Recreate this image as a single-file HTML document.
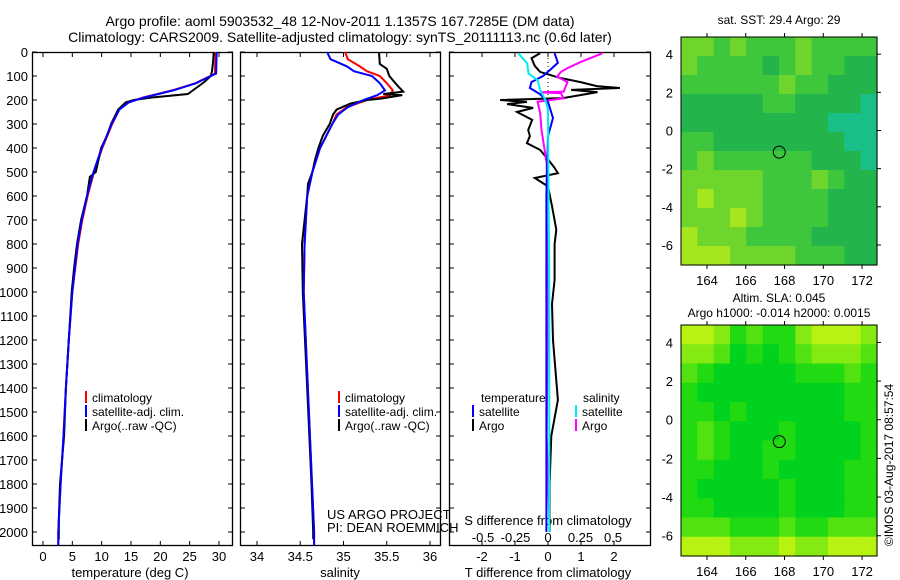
<!DOCTYPE html>
<html><head><meta charset="utf-8"><style>
html,body{margin:0;padding:0;background:#fff;}
svg{display:block;font-family:"Liberation Sans",sans-serif;}
text{fill:#000;}
</style></head><body>
<svg id="chart" width="900" height="580" viewBox="0 0 900 580" xmlns="http://www.w3.org/2000/svg">
<text x="340" y="26" font-size="14" text-anchor="middle">Argo profile: aoml 5903532_48 12-Nov-2011 1.1357S 167.7285E (DM data)</text>
<text x="340" y="42" font-size="14" text-anchor="middle">Climatology: CARS2009. Satellite-adjusted climatology: synTS_20111113.nc (0.6d later)</text>
<g id="layer"></g>
</svg>
<script>
// ---------- data ----------
const depthTicks=[0,100,200,300,400,500,600,700,800,900,1000,1100,1200,1300,1400,1500,1600,1700,1800,1900,2000];
const tempTicks=[0,5,10,15,20,25,30];
const salTicks=[34,34.5,35,35.5,36];
const tdiffTicks=[-2,-1,0,1,2];
const sdiffTicks=[-0.5,-0.25,0,0.25,0.5];
const tDepthArgo=[0,40,80,100,125,150,175,190,200,210,240,300,350,400,500,520,600,700,800,900,1000,1200,1400,1600,1800,1950,2030];
const tArgo=[29.1,29.0,28.8,28.6,27.5,26.1,24.7,18.4,15.5,14.1,12.8,11.6,10.9,9.9,9.0,8.0,7.5,6.5,5.8,5.3,4.9,4.4,3.9,3.6,2.9,2.7,2.7];
const tDepthClim=[0,90,100,130,160,190,210,240,300,400,500,600,700,800,1000,1200,1400,1600,1800,2000,2055];
const tClim=[29.4,29.3,28.5,26.0,22.0,17.0,14.5,13.0,11.8,10.1,8.7,7.6,6.7,6.0,5.0,4.4,3.9,3.5,3.0,2.6,2.6];
const tSat=[29.6,29.5,28.6,26.1,22.2,17.2,14.6,13.0,11.7,10.0,8.6,7.5,6.6,5.9,5.0,4.4,3.9,3.5,3.0,2.6,2.6];
const sDepthArgo=[0,50,70,100,130,150,165,175,180,195,200,215,240,260,300,350,400,450,500,550,600,800,1000,1400,1800,2000,2030];
const sArgo=[35.41,35.42,35.5,35.53,35.6,35.65,35.69,35.46,35.68,35.42,35.27,35.08,34.92,34.88,34.84,34.76,34.71,34.67,34.64,34.59,34.58,34.52,34.53,34.58,34.63,34.65,34.65];
const sDepthClim=[0,30,60,80,100,130,160,180,200,230,260,300,400,500,600,800,1000,1500,2000,2055];
const sClim=[35.02,35.05,35.19,35.27,35.42,35.5,35.57,35.54,35.27,35.04,34.92,34.87,34.73,34.64,34.58,34.55,34.54,34.6,34.66,34.66];
const sSat=[34.81,34.85,35.04,35.12,35.33,35.42,35.48,35.39,35.23,35.05,34.94,34.87,34.73,34.64,34.58,34.55,34.54,34.6,34.66,34.66];
const dTArgoDepth=[5,26,58,83,108,125,142,150,158,167,192,200,208,217,233,250,283,325,350,380,408,458,483,505,525,560,642,740,800,950,1050,1200,1450,1600,1800,2000];
const dTArgo=[-0.24,-0.5,-0.4,-0.24,0.36,0.97,1.48,2.18,0.7,1.5,0.45,-1.45,-0.64,-1.24,-0.45,-0.94,-0.48,-0.6,-0.55,-0.64,-0.24,0.06,0.2,0.3,-0.4,0,0.12,0.25,0.2,0.2,0.12,0.15,0.3,0.1,0.05,0.05];
const dTSatDepth=[5,45,75,100,125,150,175,208,275,350,600,1000,2000];
const dTSat=[0.2,0.3,0.06,-0.15,-0.5,-0.55,-0.25,0,0.15,0,-0.05,-0.05,-0.05];
const dSSatDepth=[5,47,89,117,158,200,240,600,1000,2000];
const dSSat=[-0.23,-0.16,-0.15,-0.08,-0.06,-0.02,0,0.005,0.01,0.01];
const dSArgoDepth=[5,42,67,83,103,125,165,168,172,193,207,255,325,394,464,700,1000,1600,1950];
const dSArgo=[0.42,0.25,0.15,0.1,0.07,0.15,0.12,-0.06,0.1,0.12,-0.08,-0.06,-0.05,-0.03,-0.01,-0.01,0,-0.01,0.01];
const latTicks=[4,2,0,-2,-4,-6];
const lonTicks=[164,166,168,170,172];
const sstGrid=["332322232222","322221232211","222222322111","111112211110","111111111000","221111111100","232222221110","333332223211","343332222111","333432222111","433322221111","444333322211"];
const slaGrid=["443121134443","332010123332","210000011121","100000000011","110100000011","121000100001","121001100001","110001000011","100000100011","110000100011","222111211222","444333433444"];
const sstColors=["#19bf86","#24b44c","#3ec63c","#6ed52c","#a6e61e"];
const slaColors=["#00d21e","#22da12","#52e212","#84ea12","#b8f210"];
const argoLon=167.7285, argoLat=-1.1357;

// ---------- helpers ----------
const NS="http://www.w3.org/2000/svg";
const layer=document.getElementById('layer');
function mk(tag,attrs,parent){const e=document.createElementNS(NS,tag);for(const k in attrs)e.setAttribute(k,attrs[k]);(parent||layer).appendChild(e);return e;}
const Y0=52, YS=0.24;
const yD=d=>Y0+d*YS;
const xT=v=>43+v*(219-43)/30;
const xS=v=>257+(v-34)*86.5;
const xDT=v=>548+v*33;
const xDS=v=>548+v*130;
function txt(x,y,s,size,anchor,name){const t=mk('text',{x:x,y:y,'font-size':size,'text-anchor':anchor||'start'});t.textContent=s;


return t;}
function line(xs,ds,xf,color,w,name){const pts=ds.map((d,i)=>xf(xs[i]).toFixed(1)+','+yD(d).toFixed(1)).join(' ');
const p=mk('polyline',{points:pts,fill:'none',stroke:color,'stroke-width':w,'stroke-linejoin':'miter'});

}

const panels=[[32,232,'temperature-panel'],[240,440,'salinity-panel'],[449,650,'difference-panel']];
panels.forEach(([l,r,n])=>{const b=mk('rect',{x:l+0.5,y:52.5,width:r-l,height:493,fill:'none',stroke:'#000','stroke-width':1.3});


depthTicks.forEach(d=>{mk('line',{x1:l,x2:l+5,y1:yD(d),y2:yD(d),stroke:'#000'});mk('line',{x1:r-4,x2:r+1,y1:yD(d),y2:yD(d),stroke:'#000'});});});
depthTicks.forEach(d=>txt(28,yD(d)+5,String(d),13,'end','depth-tick-label'));
function xticks(ticks,f,labels,y){ticks.forEach((v,i)=>{const x=f(v);mk('line',{x1:x,x2:x,y1:541,y2:546,stroke:'#000'});mk('line',{x1:x,x2:x,y1:52,y2:57,stroke:'#000'});
if(labels)txt(x,y,labels[i],13,'middle','x-tick-label');});}
xticks(tempTicks,xT,tempTicks.map(String),561);
xticks(salTicks,xS,salTicks.map(String),561);
xticks(tdiffTicks,xDT,tdiffTicks.map(String),561);
sdiffTicks.forEach(v=>txt(xDS(v),542,String(v),13,'middle','s-diff-tick-label'));
txt(130,577,'temperature (deg C)',13,'middle','x-axis-title-temperature');
txt(340,577,'salinity',13,'middle','x-axis-title-salinity');
txt(548,577,'T difference from climatology',13,'middle','x-axis-title-t-difference');
txt(548,525,'S difference from climatology',13,'middle','s-difference-title');
txt(327,519,'US ARGO PROJECT',13,'start','project-label');
txt(327,532,'PI: DEAN ROEMMICH',13,'start','pi-label');

const z=mk('line',{x1:548,x2:548,y1:54,y2:100,stroke:'#000','stroke-dasharray':'1,3'});



line(tClim,tDepthClim,xT,'#f00',2,'temperature-climatology-line');
line(tArgo,tDepthArgo,xT,'#000',2,'temperature-argo-line');
line(tSat,tDepthClim,xT,'#00f',2,'temperature-satellite-line');
line(sClim,sDepthClim,xS,'#f00',2,'salinity-climatology-line');
line(sArgo,sDepthArgo,xS,'#000',2,'salinity-argo-line');
line(sSat,sDepthClim,xS,'#00f',2,'salinity-satellite-line');
line(dTArgo,dTArgoDepth,xDT,'#000',2,'t-diff-argo-line');
line(dSArgo,dSArgoDepth,xDS,'#f0f',2,'s-diff-argo-line');
line(dTSat,dTSatDepth,xDT,'#00f',2,'t-diff-satellite-line');
line(dSSat,dSSatDepth,xDS,'#0ee',2,'s-diff-satellite-line');

function leg(x,y,color,label,name){const r=mk('rect',{x:x,y:y-11,width:2,height:12,fill:color});


txt(x+7,y,label,12,'start',name+'-label');}
[[85,'temp'],[338,'sal']].forEach(([x,p])=>{leg(x,402,'#f00','climatology',p+'-legend-climatology');leg(x,416,'#00f','satellite-adj. clim.',p+'-legend-satellite');leg(x,430,'#000','Argo(..raw -QC)',p+'-legend-argo');});
txt(481,402,'temperature',12,'start','legend-temperature-heading');
txt(583,402,'salinity',12,'start','legend-salinity-heading');
leg(472,416,'#00f','satellite','diff-legend-t-satellite');
leg(472,430,'#000','Argo','diff-legend-t-argo');
leg(575,416,'#0ee','satellite','diff-legend-s-satellite');
leg(575,430,'#f0f','Argo','diff-legend-s-argo');

function map(top,h,grid,colors,name){const L=681,R=877,T=top,B=top+h;
const lonMin=162.66,lonMax=172.77,latMax=4.9,latMin=-7.05;
const mx=v=>L+(v-lonMin)/(lonMax-lonMin)*(R-L);
const my=v=>T+(latMax-v)/(latMax-latMin)*(B-T);
const rows=grid.length,cols=grid[0].length;const cw=(R-L)/cols,ch=(B-T)/rows;
grid.forEach((row,i)=>{for(let j=0;j<cols;j++){const c=mk('rect',{x:L+j*cw,y:T+i*ch,width:cw+0.6,height:ch+0.6,fill:colors[+row[j]]});

}});
const f=mk('rect',{x:L,y:T,width:R-L,height:B-T,fill:'none',stroke:'#000','stroke-width':1});


latTicks.forEach(v=>{const y=my(v);mk('line',{x1:R,x2:R+4,y1:y,y2:y,stroke:'#000'});txt(673,y+5,String(v),13,'end',name+'-lat-label');});
lonTicks.forEach(v=>{const x=mx(v);mk('line',{x1:x,x2:x,y1:T-4,y2:T,stroke:'#000'});mk('line',{x1:x,x2:x,y1:B,y2:B+4,stroke:'#000'});txt(x,B+20,String(v),13,'middle',name+'-lon-label');});
const c=mk('circle',{cx:mx(argoLon),cy:my(argoLat),r:6,fill:'none',stroke:'#000','stroke-width':1});

}
map(37,228,sstGrid,sstColors,'sst-map');
map(325,231,slaGrid,slaColors,'sla-map');
txt(779,24,'sat. SST: 29.4  Argo: 29',12,'middle','sst-map-title');
txt(779,302,'Altim. SLA: 0.045',12,'middle','sla-map-title');
txt(779,317,'Argo h1000: -0.014 h2000: 0.0015',12,'middle','sla-map-subtitle');
const stamp=txt(0,0,'©IMOS 03-Aug-2017 08:57:54',12,'middle','timestamp-label');
stamp.setAttribute('transform','translate(893,465) rotate(-90)');
</script>
</body></html>
